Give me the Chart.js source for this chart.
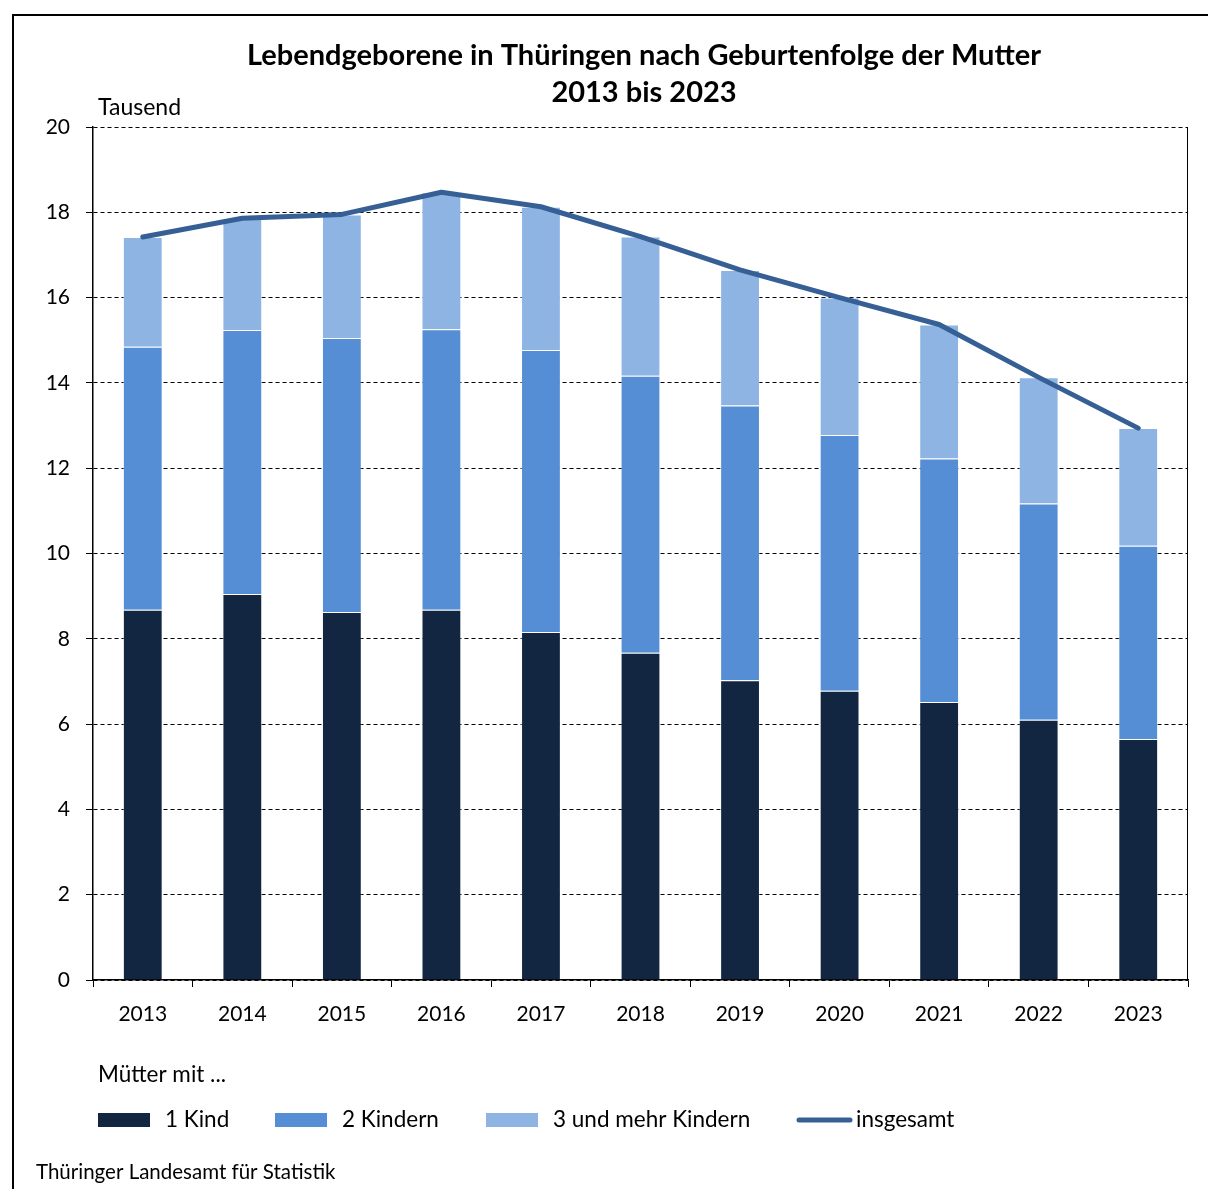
<!DOCTYPE html>
<html>
<head>
<meta charset="utf-8">
<script src="https://cdn.jsdelivr.net/npm/chart.js@4.4.1/dist/chart.umd.min.js"></script>
<style>
  html, body { margin: 0; padding: 0; background: #fff; }
  #wrap { width: 1208px; height: 1189px; position: relative; }
</style>
</head>
<body>
<div id="wrap"><canvas id="myDiagram" width="1208" height="1189"></canvas></div>
<script>
const years = ['2013', '2014', '2015', '2016', '2017', '2018', '2019', '2020', '2021', '2022', '2023'];
const kind1 = [8.68, 9.05, 8.63, 8.68, 8.16, 7.67, 7.03, 6.78, 6.52, 6.10, 5.65];
const kind2 = [6.17, 6.19, 6.42, 6.58, 6.61, 6.50, 6.44, 6.00, 5.71, 5.07, 4.53];
const kind3 = [2.57, 2.62, 2.90, 3.21, 3.36, 3.26, 3.18, 3.22, 3.14, 2.96, 2.76];
const insgesamt = [17.42, 17.86, 17.95, 18.47, 18.13, 17.43, 16.65, 16.00, 15.37, 14.13, 12.94];
const yTicks = [0, 2, 4, 6, 8, 10, 12, 14, 16, 18, 20];

const FONT = 'Lato, "Noto Sans", sans-serif';

// frame, titles, right border and custom legend
const decor = {
    id: 'decor',
    afterDraw(chart) {
        const c = chart.ctx;
        const a = chart.chartArea;
        c.save();
        // outer frame
        c.strokeStyle = '#000';
        c.lineWidth = 2;
        c.beginPath();
        c.moveTo(13, 1189);
        c.lineTo(13, 15);
        c.lineTo(1210, 15);
        c.stroke();
        // right border of plot
        c.lineWidth = 1;
        c.beginPath();
        c.moveTo(a.right - 0.5, a.top);
        c.lineTo(a.right - 0.5, a.bottom);
        c.stroke();

        c.fillStyle = '#000';
        c.textBaseline = 'middle';
        c.textAlign = 'center';
        c.font = 'bold 29px ' + FONT;
        c.fillText('Lebendgeborene in Thüringen nach Geburtenfolge der Mutter', 644, 56);
        c.fillText('2013 bis 2023', 644, 93);

        c.textAlign = 'left';
        c.font = '23px ' + FONT;
        c.fillText('Tausend', 98, 108);
        c.font = '22.5px ' + FONT;
        c.fillText('Mütter mit ...', 98, 1075);
        c.font = '20.5px ' + FONT;
        c.fillText('Thüringer Landesamt für Statistik', 36, 1172);

        // legend
        c.font = '22.5px ' + FONT;
        const ds = chart.data.datasets;
        const items = [
            { d: ds[1], x: 98 },
            { d: ds[2], x: 275 },
            { d: ds[3], x: 486 },
            { d: ds[0], x: 797 }
        ];
        const ly = 1120;
        items.forEach(it => {
            if (it.d.type === 'line') {
                c.strokeStyle = it.d.borderColor;
                c.lineWidth = 5;
                c.lineCap = 'round';
                c.beginPath();
                c.moveTo(it.x + 2, ly);
                c.lineTo(it.x + 53, ly);
                c.stroke();
                c.fillStyle = '#000';
                c.fillText(it.d.label, it.x + 59, ly);
            } else {
                c.fillStyle = it.d.backgroundColor;
                c.fillRect(it.x, ly - 7, 52, 14);
                c.fillStyle = '#000';
                c.fillText(it.d.label, it.x + 67, ly);
            }
        });
        c.restore();
    }
};

const ctx = document.getElementById('myDiagram').getContext('2d');
const myChart = new Chart(ctx, {
    type: 'bar',
    data: {
        labels: years,
        datasets: [
            {
                type: 'line',
                label: 'insgesamt',
                data: insgesamt,
                stack: 'total',
                borderColor: '#366095',
                borderWidth: 5,
                pointRadius: 0,
                tension: 0,
                borderCapStyle: 'round',
                borderJoinStyle: 'round',
                order: 0
            },
            {
                label: '1 Kind',
                data: kind1,
                backgroundColor: '#132641',
                borderColor: 'rgba(255,255,255,0.35)',
                borderWidth: 1,
                order: 1
            },
            {
                label: '2 Kindern',
                data: kind2,
                backgroundColor: '#558ed5',
                borderColor: 'rgba(255,255,255,0.35)',
                borderWidth: 1,
                order: 1
            },
            {
                label: '3 und mehr Kindern',
                data: kind3,
                backgroundColor: '#8eb4e3',
                borderColor: 'rgba(255,255,255,0.35)',
                borderWidth: 1,
                order: 1
            }
        ]
    },
    options: {
        responsive: false,
        animation: false,
        barPercentage: 0.4,
        categoryPercentage: 1,
        layout: {
            padding: { top: 127, right: 20, left: 0, bottom: 0 }
        },
        plugins: {
            legend: { display: false },
            title: { display: false },
            tooltip: { enabled: false }
        },
        scales: {
            x: {
                stacked: true,
                afterFit: s => { s.height = 209; },
                grid: {
                    offset: true,
                    drawOnChartArea: false,
                    drawTicks: true,
                    tickLength: 7,
                    tickColor: '#000',
                    tickWidth: 1
                },
                border: { display: true, color: '#000', width: 1.5 },
                ticks: {
                    color: '#000',
                    padding: 15,
                    font: { family: FONT, size: 21 }
                }
            },
            y: {
                stacked: true,
                min: 0,
                max: 20,
                afterFit: s => { s.width = 93; },
                afterBuildTicks: s => { s.ticks = yTicks.map(v => ({ value: v })); },
                grid: {
                    color: '#000',
                    lineWidth: 1,
                    tickLength: 7,
                    tickColor: '#000',
                    tickBorderDash: []
                },
                border: { display: true, color: '#000', width: 1.5, dash: [4, 3] },
                ticks: {
                    color: '#000',
                    padding: 16,
                    font: { family: FONT, size: 21 }
                }
            }
        }
    },
    plugins: [decor]
});
</script>
</body>
</html>
